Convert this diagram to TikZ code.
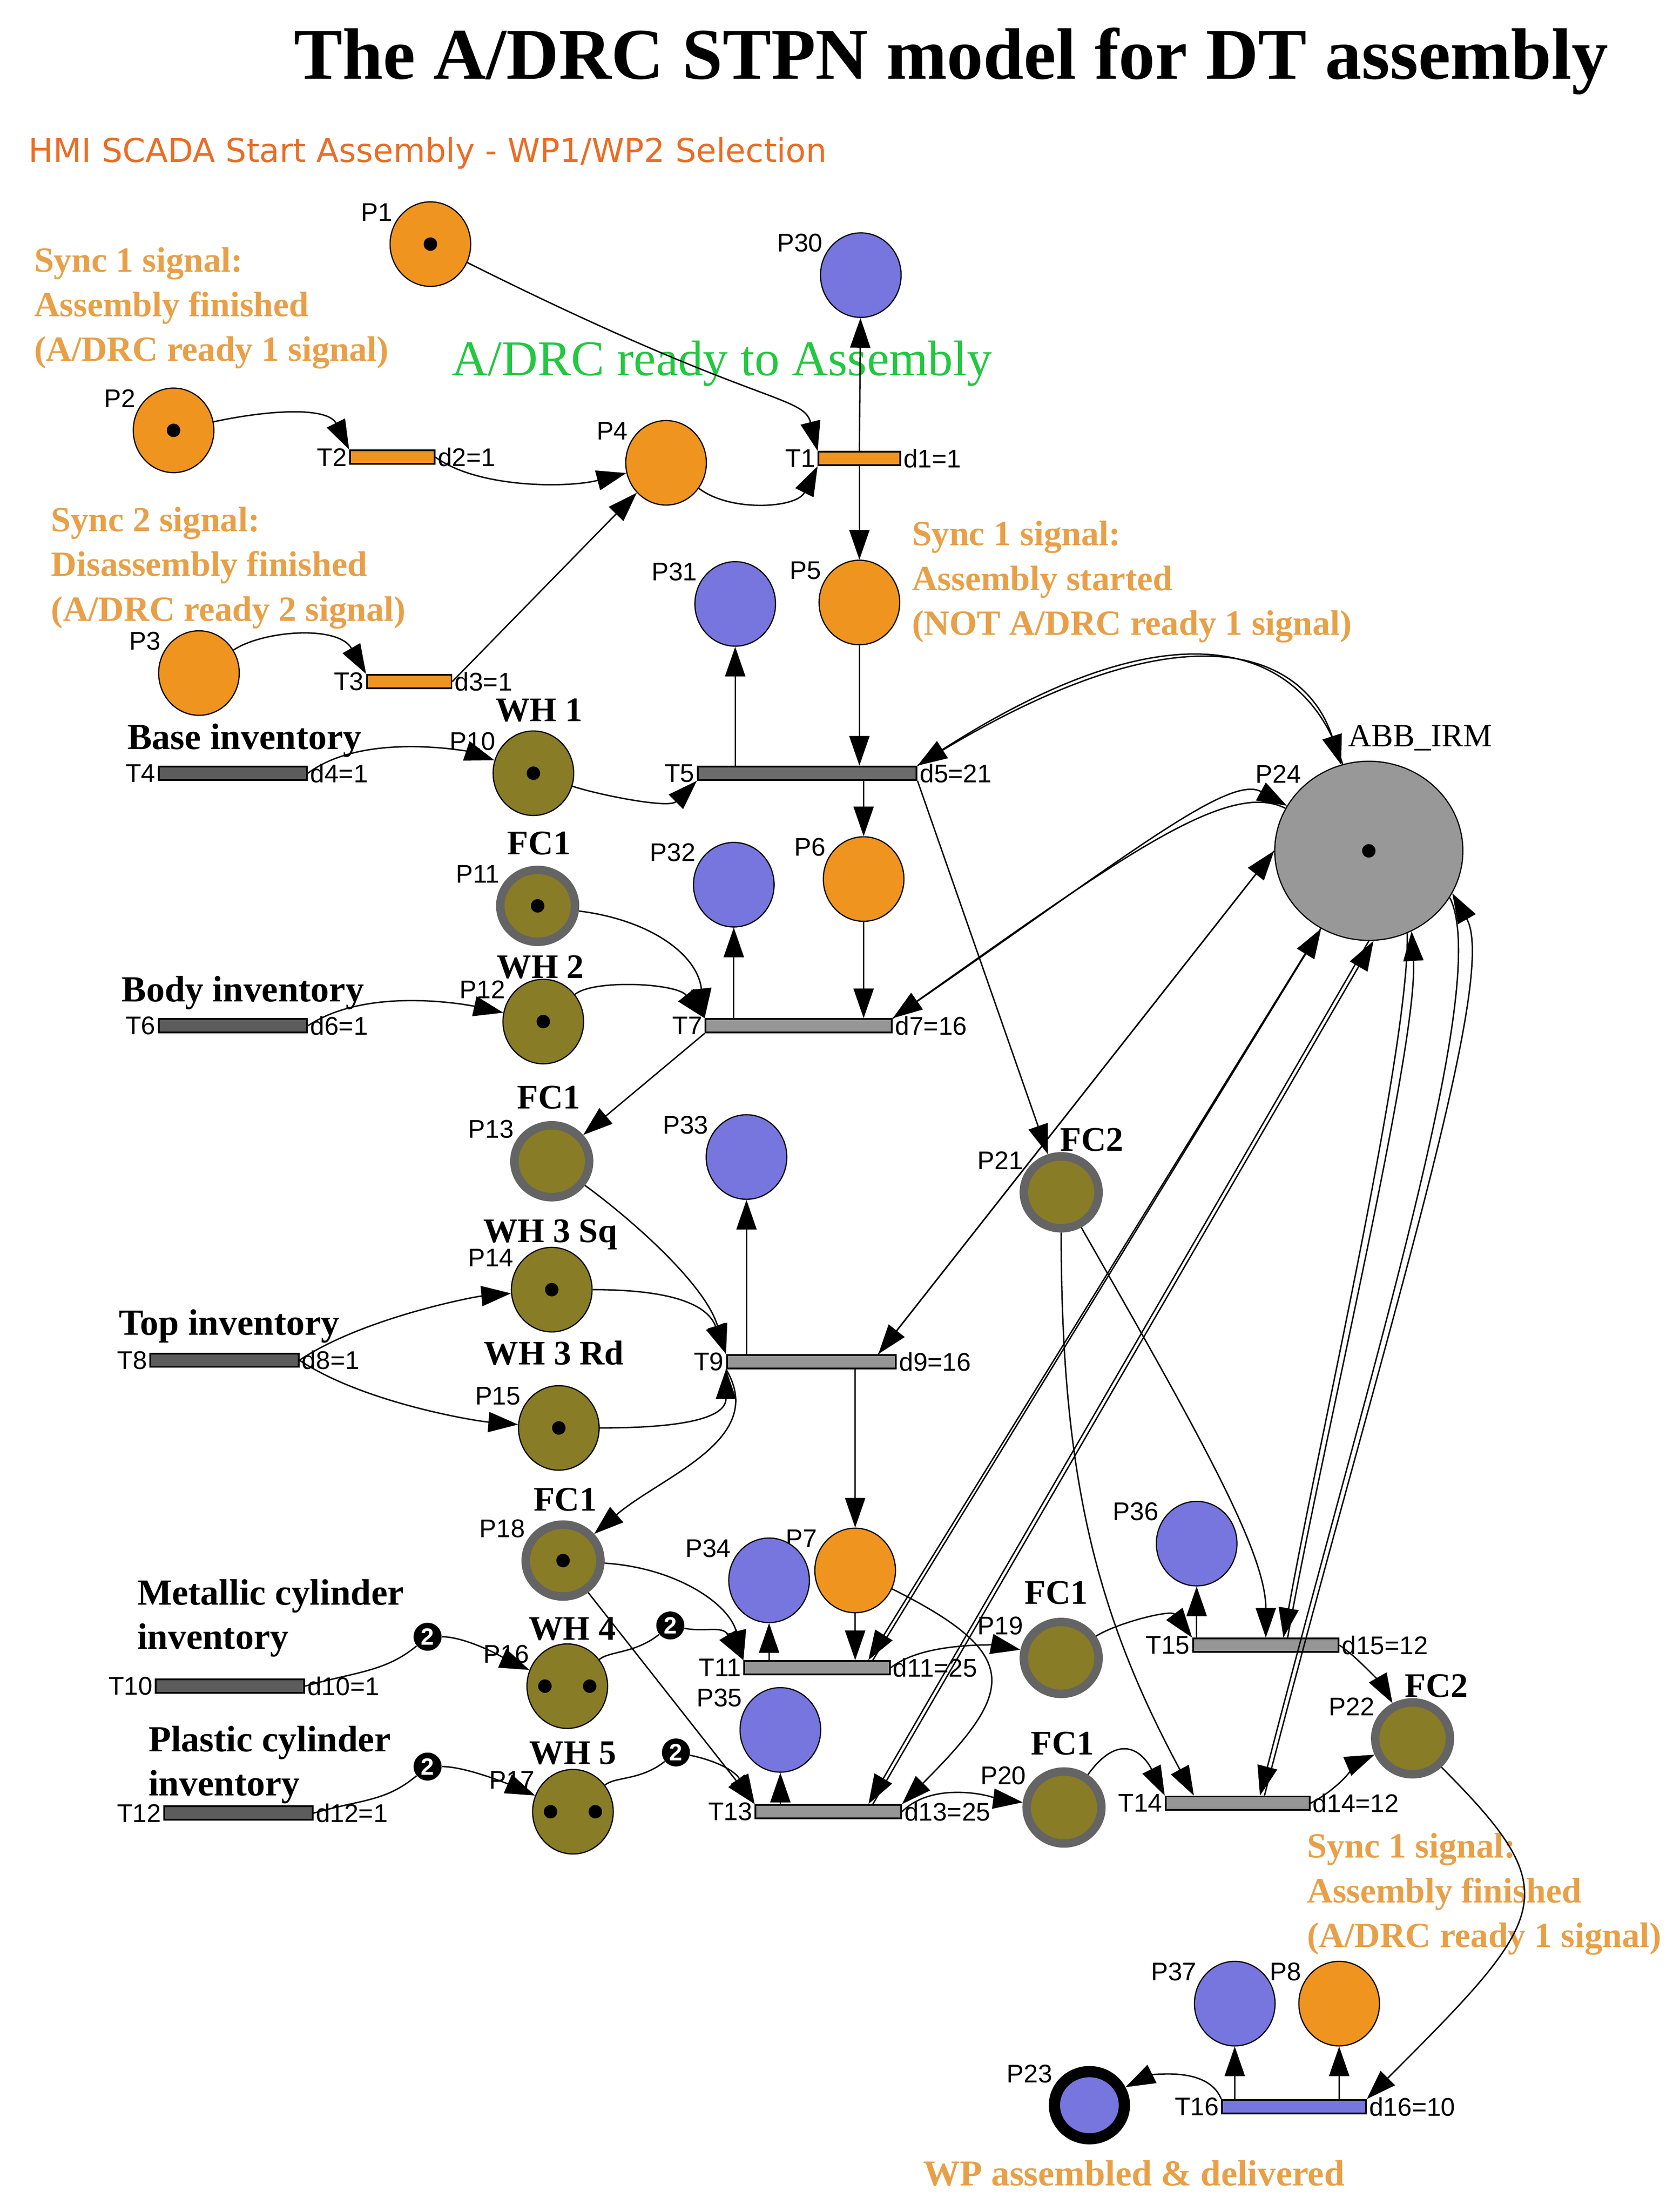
\documentclass[tikz,border=0pt]{standalone}
\usepackage{fontspec}
\setmainfont{Liberation Serif}
\newfontfamily\lblfont{Liberation Sans}
\newfontfamily\hmifont{DejaVu Sans}
\usetikzlibrary{arrows.meta,shapes.geometric}

\definecolor{porange}{RGB}{240,148,32}
\definecolor{pblue}{RGB}{118,118,222}
\definecolor{polive}{RGB}{136,124,38}
\definecolor{fcgray}{RGB}{100,100,100}
\definecolor{robot}{RGB}{152,152,152}
\definecolor{tdark}{RGB}{92,92,92}
\definecolor{tmid}{RGB}{108,108,108}
\definecolor{tlight}{RGB}{150,150,150}
\definecolor{synctan}{RGB}{232,160,72}
\definecolor{hmiorange}{RGB}{236,108,36}
\definecolor{readygreen}{RGB}{34,200,64}

\tikzset{
  place/.style={ellipse,draw,line width=0.6pt,minimum width=1.44cm,minimum height=1.51cm,inner sep=0pt},
  oplace/.style={place,fill=porange},
  bplace/.style={place,fill=pblue},
  gplace/.style={place,fill=polive},
  fcplace/.style={place,fill=polive,draw=fcgray,line width=4.3pt,minimum width=1.335cm,minimum height=1.285cm},
  trans/.style={rectangle,draw,line width=0.9pt,minimum height=0.24cm,inner sep=0pt},
  pl/.style={font=\lblfont\fontsize{13}{13}\selectfont,inner sep=1pt},
  nm/.style={font=\bfseries\fontsize{17.5}{17.5}\selectfont,inner sep=2pt},
  wt/.style={circle,fill=black,text=white,inner sep=0pt,minimum size=0.5cm,font=\lblfont\bfseries\fontsize{12}{12}\selectfont},
  arc/.style={line width=0.7pt,-{Triangle[length=0.53cm,width=0.36cm]}},
  sync/.style={text=synctan,font=\bfseries\fontsize{18}{22.7}\selectfont,align=left,anchor=north west,inner sep=0pt},
  inv/.style={font=\bfseries\fontsize{18.7}{22.5}\selectfont,align=left,anchor=north west,inner sep=0pt}
}

\begin{document}
\begin{tikzpicture}[x=0.0252cm,y=-0.0252cm]
	\fill[white] (0,0) rectangle (1190.5,1567.7);
	\useasboundingbox (0,0) rectangle (1190.5,1567.7);

	% texts
	\node[font=\bfseries\fontsize{37}{37}\selectfont,anchor=base] (title) at (674,56) {The A/DRC STPN model for DT assembly};
	\node[text=hmiorange,font=\hmifont\fontsize{16.7}{16.7}\selectfont,anchor=base west,inner sep=0pt] (hmi) at (20,115) {HMI SCADA Start Assembly - WP1/WP2 Selection};
	\node[sync] (sync1) at (24,175) {Sync 1 signal:\\Assembly finished\\(A/DRC ready 1 signal)};
	\node[sync] (sync2) at (36,359) {Sync 2 signal:\\Disassembly finished\\(A/DRC ready 2 signal)};
	\node[sync] (sync3) at (646,369) {Sync 1 signal:\\Assembly started\\(NOT A/DRC ready 1 signal)};
	\node[sync] (sync4) at (926,1299) {Sync 1 signal:\\Assembly finished\\(A/DRC ready 1 signal)};
	\node[text=synctan,font=\bfseries\fontsize{18.6}{18.6}\selectfont,anchor=base west,inner sep=0pt] (done) at (654,1549) {WP assembled \& delivered};
	\node[text=readygreen,font=\fontsize{25.4}{25.4}\selectfont,anchor=base west,inner sep=0pt] (ready) at (320,266) {A/DRC ready to Assembly};
	\node[inv,anchor=base west] (baseinv) at (90,531) {Base inventory};
	\node[inv,anchor=base west] (bodyinv) at (86,710) {Body inventory};
	\node[inv,anchor=base west] (topinv) at (84,946) {Top inventory};
	\node[inv] (metinv) at (97,1119) {Metallic cylinder\\inventory};
	\node[inv] (plainv) at (105,1223) {Plastic cylinder\\inventory};
	\node[font=\fontsize{16.5}{16.5}\selectfont,anchor=base west,inner sep=0pt] (abb) at (955,529) {ABB\_IRM};

	% places
	\foreach \n/\x/\y in {P1/305/173,P2/123/305,P3/141/477,P4/472/328,P5/609/427,P6/612/623,P7/606/1113,P8/949/1420}
		\node[oplace,label={[pl]150:\n}] (\n) at (\x,\y) {};
	\foreach \n/\x/\y in {P30/610/195,P31/521/428,P32/520/627,P33/529/820,P34/545/1120,P35/553/1226,P36/848/1094,P37/875/1420}
		\node[bplace,label={[pl]150:\n}] (\n) at (\x,\y) {};
	\foreach \n/\x/\y in {P10/378/548,P12/385/724,P14/391/914,P15/396/1012,P16/402/1195,P17/406/1284}
		\node[gplace,label={[pl]150:\n}] (\n) at (\x,\y) {};
	\foreach \n/\x/\y in {P11/381/642,P13/391/823,P18/399/1106,P19/752/1175,P20/754/1281,P21/752/845,P22/1001/1232}
		\node[fcplace,label={[pl]150:\n}] (\n) at (\x,\y) {};
	\node[place,fill=pblue,line width=5.7pt,minimum width=1.25cm,minimum height=1.2cm,label={[pl]150:P23}] (P23) at (772,1492) {};
	\node[place,fill=robot,minimum width=3.36cm,minimum height=3.2cm,label={[pl]135:P24}] (P24) at (970,603) {};

	% tokens
	\foreach \n in {P1,P2,P10,P11,P12,P14,P15,P18,P24}
		\fill (\n) circle (0.12cm);
	\foreach \n in {P16,P17} {
		\fill ([xshift=-0.4cm]\n.center) circle (0.12cm);
		\fill ([xshift=0.4cm]\n.center) circle (0.12cm);
	}

	% place names
	\foreach \n/\t/\dx/\dy in {P10/WH 1/4/-3,P11/FC1/1/-4.5,P12/WH 2/-2/3,P13/FC1/-2/-5.5,P14/WH 3 Sq/-1/5,P15/WH 3 Rd/-3.5/-11,P18/FC1/1.5/-3.5,P16/WH 4/3.5/1,P17/WH 5/0/0,P19/FC1/-3.5/-6.5,P20/FC1/-1/-5.5,P21/FC2/21.7/2.5,P22/FC2/17/2.5}
		\node[nm,anchor=south] (\n-nm) at ([shift={(\dx,\dy)}]\n.north) {\t};

	% transitions
	\foreach \n/\x/\y/\w/\dl in {T1/609/325/1.46/d1=1,T2/278/324/1.51/d2=1,T3/290/483/1.51/d3=1}
		\node[trans,fill=porange,minimum width=\w cm,label={[pl]left:\n},label={[pl]right:\dl}] (\n) at (\x,\y) {};
	\foreach \n/\x/\y/\dl in {T4/165/548/d4=1,T6/165/727/d6=1,T8/159/964/d8=1,T10/163/1195/d10=1,T12/169/1285/d12=1}
		\node[trans,fill=tdark,minimum width=2.65cm,label={[pl]left:\n},label={[pl]right:\dl}] (\n) at (\x,\y) {};
	\node[trans,fill=tmid,minimum width=3.91cm,label={[pl]left:T5},label={[pl]right:d5=21}] (T5) at (572,548) {};
	\foreach \n/\x/\y/\w/\dl in {T7/566/727/3.33/d7=16,T9/575/965/3.02/d9=16,T11/579/1182/2.6/d11=25,T13/587/1284/2.6/d13=25,T14/877/1278/2.57/d14=12,T15/897/1166/2.6/d15=12}
		\node[trans,fill=tlight,minimum width=\w cm,label={[pl]left:\n},label={[pl]right:\dl}] (\n) at (\x,\y) {};
	\node[trans,fill=pblue,minimum width=2.57cm,label={[pl]left:T16},label={[pl]right:d16=10}] (T16) at (917,1493) {};

	% weights
	\node[wt] (W1) at (303,1160) {2};
	\node[wt] (W2) at (475,1152) {2};
	\node[wt] (W3) at (303,1252) {2};
	\node[wt] (W4) at (479,1242) {2};

	% arcs: start of assembly
	\draw[arc] (P1) .. controls +(230,115) and +(-10,-40) .. (T1.north west);
	\draw[arc] (P2) .. controls +(70,-15) and +(-15,-30) .. (T2.north west);
	\draw[arc] (T2.east) .. controls +(30,22) and +(-70,18) .. (P4);
	\draw[arc] (P4) .. controls +(45,35) and +(-15,30) .. (T1.south west);
	\draw[arc] (P3) .. controls +(45,-30) and +(-20,-35) .. (T3.north west);
	\draw[arc] (T3.east) -- (P4);
	\draw[arc] (T1.north) -- (P30);
	\draw[arc] (T1.south) -- (P5);

	% base
	\draw[arc] (P5) -- (T5.north -| P5);
	\draw[arc] (T5.north -| P31) -- (P31);
	\draw[arc] (T5.south -| P6) -- (P6);
	\draw[arc] (T4.east) .. controls +(40,-30) and +(-45,-15) .. (P10);
	\draw[arc] (P10) .. controls +(45,15) and +(-20,20) .. (T5.south west);
	\draw[arc] (T5.north east) .. controls +(190,-120) and +(-45,-140) .. (P24);
	\draw[arc] (P24) .. controls +(-43,-142) and +(190,-122) .. (T5.north east);
	\draw[arc] (T5.south east) -- (P21);

	% body
	\draw[arc] (P11) .. controls +(80,10) and +(-5,-45) .. (T7.north west);
	\draw[arc] (P12) .. controls +(35,-30) and +(-20,-25) .. (T7.north west);
	\draw[arc] (T6.east) .. controls +(45,-30) and +(-45,-10) .. (P12);
	\draw[arc] (T7.north -| P32) -- (P32);
	\draw[arc] (P6) -- (T7.north -| P6);
	\draw[arc] (T7.south west) -- (P13);
	\draw[arc] (T7.north east) .. controls +(160,-110) and +(-100,-55) .. (P24);
	\draw[arc] (P24) .. controls +(-100,-51) and +(160,-113) .. (T7.north east);

	% top
	\draw[arc] (P13) .. controls +(55,40) and +(-15,-50) .. (T9.north west);
	\draw[arc] (T8.east) .. controls +(45,-30) and +(-55,5) .. (P14);
	\draw[arc] (T8.east) .. controls +(45,30) and +(-60,-5) .. (P15);
	\draw[arc] (P14) .. controls +(70,0) and +(-15,-40) .. (T9.north west);
	\draw[arc] (P15) .. controls +(60,0) and +(0,40) .. (T9.south west);
	\draw[arc] (T9.south west) .. controls +(30,50) and +(70,-60) .. (P18);
	\draw[arc] (T9.north -| P33) -- (P33);
	\draw[arc] (T9.south -| P7) -- (P7);
	\draw[arc] (P24.west) -- ([xshift=-0.33cm]T9.north east);
	\draw[arc] ([xshift=-0.33cm]T9.north east) -- (P24.west);

	% cylinders
	\draw[arc] (T10.east) .. controls +(35,-10) and +(-30,25) .. (W1) .. controls +(30,0) and +(-35,-15) .. (P16);
	\draw[arc] (P16) .. controls +(30,-25) and +(-25,20) .. (W2) .. controls +(25,5) and +(-15,-25) .. (T11.north west);
	\draw[arc] (T12.east) .. controls +(35,-10) and +(-30,25) .. (W3) .. controls +(30,0) and +(-35,-15) .. (P17);
	\draw[arc] (P17) .. controls +(30,-25) and +(-25,20) .. (W4) .. controls +(25,5) and +(-15,-25) .. (T13.north west);
	\draw[arc] (P18) .. controls +(80,5) and +(-10,-40) .. (T11.north west);
	\draw[arc] (P18) -- (T13.north west);
	\draw[arc] (T11.north -| P34) -- (P34);
	\draw[arc] (P7) -- (T11.north -| P7);
	\draw[arc] (T11.east) .. controls +(25,-20) and +(-40,-8) .. (P19);
	\draw[arc] (P7) .. controls +(120,60) and +(80,-80) .. (T13.north east);
	\draw[arc] (T13.north -| P35) -- (P35);
	\draw[arc] (T13.east) .. controls +(25,-25) and +(-40,-5) .. (P20);
	\draw[arc] (P24) -- ([xshift=-0.4cm]T11.north east);
	\draw[arc] ([xshift=-0.32cm]T11.north east) -- (P24);
	\draw[arc] (P24.south) -- ([xshift=-0.6cm]T13.north east);
	\draw[arc] ([xshift=-0.52cm]T13.north east) -- (P24.-87);

	% FC2 stage
	\draw[arc] (P21) .. controls +(100,175) and +(0,-60) .. (T15.north);
	\draw[arc] (P21) .. controls +(0,200) and +(-70,-130) .. ([xshift=-0.78cm]T14.north);
	\draw[arc] (P19) .. controls +(40,-25) and +(-15,-20) .. (T15.north west);
	\draw[arc] (T15.north -| P36) -- (P36);
	\draw[arc] (T15.east) .. controls +(15,10) and +(-20,-35) .. (P22);
	\draw[arc] (P20) .. controls +(40,-55) and +(-15,-30) .. (T14.north west);
	\draw[arc] (T14.east) .. controls +(20,-10) and +(-35,15) .. (P22);
	\draw[arc] (P24.-65) .. controls +(2,80) and +(25,-140) .. ([xshift=0.315cm]T15.north);
	\draw[arc] ([xshift=0.39cm]T15.north) .. controls +(25,-140) and +(5,80) .. (P24.-62);
	\draw[arc] (P24.-30) .. controls +(30,60) and +(80,-310) .. ([xshift=0.4cm]T14.north);
	\draw[arc] ([xshift=0.48cm]T14.north) .. controls +(80,-310) and +(34,60) .. (P24.-27);

	% delivery
	\draw[arc] (P22) .. controls +(110,110) and +(130,-130) .. (T16.north east);
	\draw[arc] (T16.north -| P37) -- (P37);
	\draw[arc] (T16.north -| P8) -- (P8);
	\draw[arc] (T16.north west) .. controls +(-10,-25) and +(40,-20) .. (P23);
\end{tikzpicture}
\end{document}
